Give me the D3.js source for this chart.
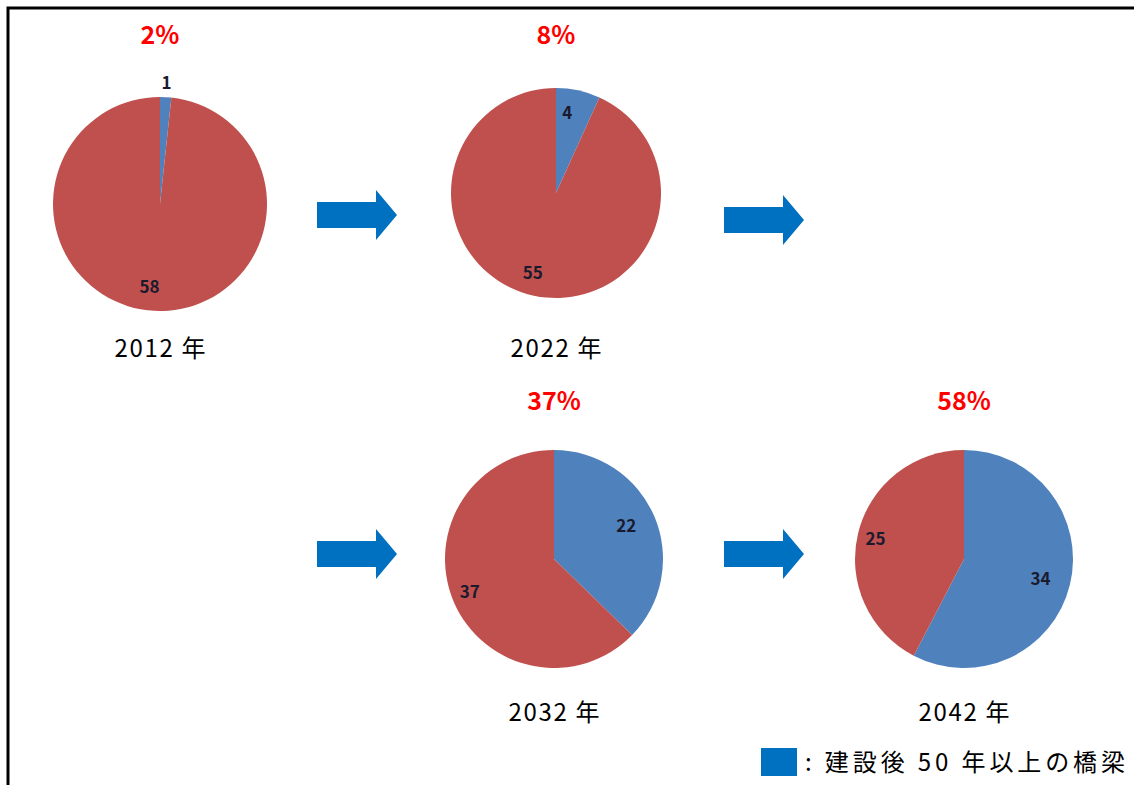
<!DOCTYPE html>
<html>
<head>
<meta charset="utf-8">
<title>建設後50年以上の橋梁の割合</title>
<script src="https://d3js.org/d3.v7.min.js"></script>
<style>
  body { margin: 0; background: #fff; }
  svg text { font-family: "Noto Sans CJK JP", "DejaVu Sans", sans-serif; }
</style>
</head>
<body>
<svg id="chart" width="1134" height="785"></svg>
<script>
// data
var years = ["2012 年", "2022 年", "2032 年", "2042 年"];
var oldBridges = [1, 4, 22, 34];     // 50 years or older
var otherBridges = [58, 55, 37, 25]; // the rest
var shares = ["2%", "8%", "37%", "58%"];
var legendText = ": 建設後 50 年以上の橋梁";

var blue = "#4F81BD", red = "#C0504D", arrowBlue = "#0070C0";

var svg = d3.select("#chart");

// frame: only top and left lines
svg.append("path")
  .attr("d", "M8,785 L8,8 L1134,8")
  .attr("fill", "none")
  .attr("stroke", "#000")
  .attr("stroke-width", 3);

// layout of the four panels
var panels = [
  { cx: 160, cy: 204, r: 107, topY: 35, yearY: 349 },
  { cx: 556, cy: 193, r: 105, topY: 35, yearY: 349 },
  { cx: 554, cy: 559, r: 109, topY: 401, yearY: 713 },
  { cx: 964, cy: 559, r: 109, topY: 401, yearY: 713 }
];

var pie = d3.pie().sort(null).value(function(d) { return d.v; });

panels.forEach(function(p, i) {
  var data = [
    { key: "old", v: oldBridges[i] },
    { key: "other", v: otherBridges[i] }
  ];
  var arcs = pie(data);
  var arc = d3.arc().innerRadius(0).outerRadius(p.r);
  var labelArc = d3.arc().innerRadius(p.r * 0.78).outerRadius(p.r * 0.78);
  var outArc = d3.arc().innerRadius(p.r * 1.13).outerRadius(p.r * 1.13);

  var g = svg.append("g").attr("transform", "translate(" + p.cx + "," + p.cy + ")");

  g.selectAll("path")
    .data(arcs)
    .enter()
    .append("path")
    .attr("d", arc)
    .attr("fill", function(d) { return d.data.key === "old" ? blue : red; });

  g.selectAll(".val")
    .data(arcs)
    .enter()
    .append("text")
    .attr("class", "val")
    .attr("transform", function(d) {
      var small = (d.endAngle - d.startAngle) < 0.2;
      var c = small ? outArc.centroid(d) : labelArc.centroid(d);
      // labels sit a little left of the centroid in the original
      return "translate(" + (c[0] - (small ? 0 : 6)) + "," + c[1] + ")";
    })
    .attr("text-anchor", "middle")
    .attr("dy", "0.35em")
    .attr("font-size", 17)
    .attr("font-weight", "bold")
    .attr("fill", "#1a1a2e")
    .text(function(d) { return d.data.v; });

  // red share on top
  svg.append("text")
    .attr("x", p.cx)
    .attr("y", p.topY)
    .attr("dy", "0.35em")
    .attr("text-anchor", "middle")
    .attr("font-size", 25)
    .attr("font-weight", "bold")
    .attr("fill", "#FF0000")
    .text(shares[i]);

  // year under pie
  svg.append("text")
    .attr("x", p.cx)
    .attr("y", p.yearY)
    .attr("dy", "0.35em")
    .attr("text-anchor", "middle")
    .attr("font-size", 24)
    .attr("textLength", 91)
    .attr("lengthAdjust", "spacing")
    .attr("fill", "#000")
    .text(years[i]);
});

// arrows between panels
var arrows = [
  { x: 317, y: 215 },
  { x: 724, y: 220 },
  { x: 317, y: 554 },
  { x: 724, y: 554 }
];
svg.selectAll(".arrow")
  .data(arrows)
  .enter()
  .append("path")
  .attr("class", "arrow")
  .attr("transform", function(d) { return "translate(" + d.x + "," + d.y + ")"; })
  .attr("d", "M0,-13 L59,-13 L59,-25 L80,0 L59,25 L59,13 L0,13 Z")
  .attr("fill", arrowBlue);

// legend
svg.append("rect")
  .attr("x", 761).attr("y", 748)
  .attr("width", 36).attr("height", 28)
  .attr("fill", arrowBlue);
svg.append("text")
  .attr("x", 805).attr("y", 763)
  .attr("dy", "0.35em")
  .attr("font-size", 24)
  .attr("textLength", 320)
  .attr("lengthAdjust", "spacing")
  .attr("fill", "#000")
  .text(legendText);
</script>
</body>
</html>
